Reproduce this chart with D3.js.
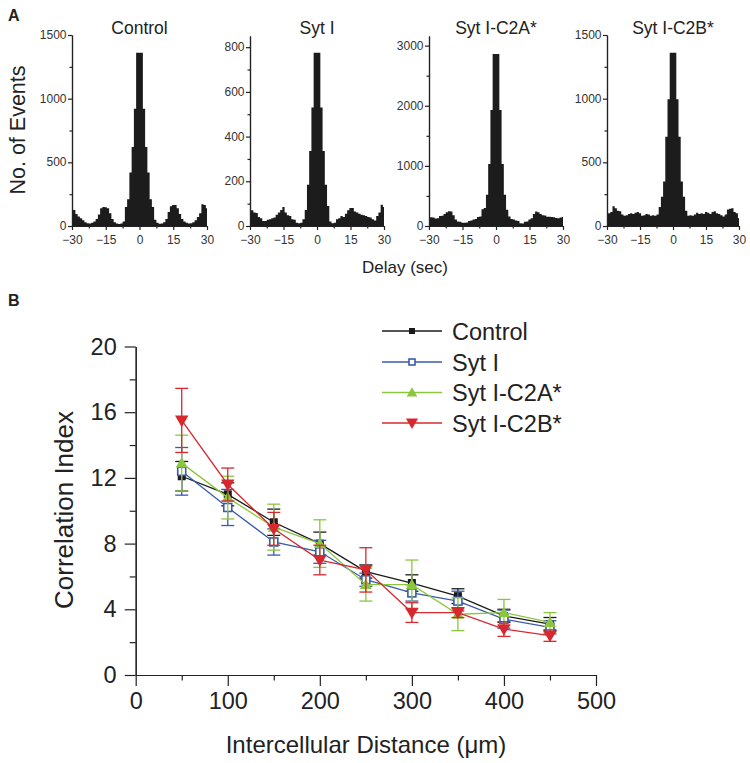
<!DOCTYPE html>
<html><head><meta charset="utf-8">
<script src="https://cdn.jsdelivr.net/npm/d3@7"></script>
<style>
body{margin:0;background:#fff}
svg{display:block}
text{font-family:"Liberation Sans",Arial,Helvetica,sans-serif}
</style>
</head><body>
<svg id="c" width="750" height="763"></svg>
<script>
// ---------- Panel A data (1-s bins, centers) ----------
const delayBins = [-30,-29,-28,-27,-26,-25,-24,-23,-22,-21,-20,-19,-18,-17,-16,-15,-14,-13,-12,-11,-10,-9,-8,-7,-6,-5,-4,-3,-2,-1,0,1,2,3,4,5,6,7,8,9,10,11,12,13,14,15,16,17,18,19,20,21,22,23,24,25,26,27,28,29,30];
const histTitles = ["Control","Syt I","Syt I-C2A*","Syt I-C2B*"];
const histControl = [130,125,95,75,60,45,30,22,20,25,35,55,90,140,150,148,140,100,55,30,20,15,20,35,150,210,420,620,920,1360,1360,1360,920,620,420,210,150,50,25,18,20,30,55,110,155,165,165,140,95,55,35,25,20,22,30,45,70,100,170,165,140];
const histSytI = [70,70,60,58,40,35,22,22,28,30,35,38,50,60,72,85,60,48,45,30,28,15,12,15,30,72,185,335,530,775,775,775,530,335,185,90,20,12,15,30,35,45,40,55,70,80,80,65,60,55,50,48,45,40,38,30,25,45,60,95,85];
const histC2A = [140,145,140,125,130,165,170,200,230,245,240,180,110,75,70,55,55,60,85,90,110,115,150,160,280,300,520,1030,1930,2860,2860,2860,1930,1030,520,270,160,115,110,90,85,45,40,70,75,110,130,200,240,230,200,180,175,155,155,150,145,135,130,140,150];
const histC2B = [95,100,110,155,140,120,115,90,80,85,95,100,95,105,110,100,80,85,95,90,80,85,80,90,150,230,350,700,995,1360,1360,1360,995,700,350,230,120,80,85,80,90,105,95,100,95,110,105,95,110,115,100,95,85,75,90,130,135,140,110,100,60];
const histSeries = [histControl, histSytI, histC2A, histC2B];
const histYMax = [1500, 850, 3160, 1500];
const histYTicks = [[0,500,1000,1500],[0,200,400,600,800],[0,1000,2000,3000],[0,500,1000,1500]];
const histYMinor = [[250,750,1250],[100,300,500,700],[500,1500,2500],[250,750,1250]];
const delayTicks = [-30,-15,0,15,30];
const delayMinor = [-22.5,-7.5,7.5,22.5];

// ---------- Panel B data ----------
const distances = [50,100,150,200,250,300,350,400,450];
const seriesNames = ["Control","Syt I","Syt I-C2A*","Syt I-C2B*"];
const corrControl = [12.1,11.0,9.3,8.0,6.3,5.6,4.8,3.6,3.1];
const errControl  = [0.9,0.7,0.8,0.7,0.4,0.5,0.45,0.4,0.4];
const corrSytI    = [12.4,10.2,8.1,7.5,5.8,5.0,4.5,3.4,2.9];
const errSytI     = [1.45,1.1,0.8,0.7,0.4,0.5,0.6,0.55,0.4];
const corrC2A     = [12.9,10.8,9.0,8.0,5.5,5.5,3.7,3.8,3.2];
const errC2A      = [1.7,1.3,1.4,1.45,1.0,1.5,1.0,0.8,0.6];
const corrC2B     = [15.5,11.6,8.9,7.0,6.4,3.8,3.8,2.8,2.4];
const errC2B      = [1.95,1.0,1.0,0.9,1.35,0.6,0.3,0.45,0.35];
const distTicks = [0,100,200,300,400,500];
const distMinor = [50,150,250,350,450];
const corrTicks = [0,4,8,12,16,20];
const corrMinor = [2,6,10,14,18];

const svg = d3.select("#c");
const axisCol = "#222";
const fmt = d3.format("d");

// ---------- Panel A ----------
const panels = [
  {x0:72, x1:207, top:35},
  {x0:250, x1:384, top:36},
  {x0:429, x1:563, top:36},
  {x0:607, x1:739, top:35}
];
const baseY = 226;

function styleAxis(g, fs, col){
  g.selectAll("path.domain").attr("stroke", axisCol).attr("stroke-width", 1.2);
  g.selectAll(".tick line").attr("stroke", axisCol).attr("stroke-width", 1.2);
  g.selectAll(".tick text").attr("font-size", fs).attr("fill", col)
   .attr("font-family", '"Liberation Sans",Arial,sans-serif');
}

panels.forEach((p, i) => {
  const x = d3.scaleLinear().domain([-30, 30]).range([p.x0, p.x1]);
  const y = d3.scaleLinear().domain([0, histYMax[i]]).range([baseY, p.top]);
  const g = svg.append("g");
  // step outline of the histogram: left edge of every bin, plus the closing right edge
  const steps = delayBins.map((c, k) => ({e: Math.max(-30, c - 0.5), v: histSeries[i][k]}));
  steps.push({e: 30, v: histSeries[i][histSeries[i].length - 1]});
  g.append("path").datum(steps)
    .attr("d", d3.area().curve(d3.curveStepAfter).x(d => x(d.e)).y0(baseY).y1(d => y(d.v)))
    .attr("fill", "#1c1c1c");

  const yMin = g.append("g").attr("transform", `translate(${p.x0},0)`)
    .call(d3.axisLeft(y).tickValues(histYMinor[i]).tickSize(2.5).tickSizeOuter(0).tickFormat(""));
  styleAxis(yMin, 12, "#333");
  const xMin = g.append("g").attr("transform", `translate(0,${baseY})`)
    .call(d3.axisBottom(x).tickValues(delayMinor).tickSize(2.5).tickSizeOuter(0).tickFormat(""));
  styleAxis(xMin, 12, "#333");

  const ya = g.append("g").attr("transform", `translate(${p.x0},0)`)
    .call(d3.axisLeft(y).tickValues(histYTicks[i]).tickSize(4).tickPadding(1.5).tickSizeOuter(0).tickFormat(fmt));
  styleAxis(ya, 12, "#333");
  ya.selectAll(".tick text").attr("dy", "0.3em");
  const xa = g.append("g").attr("transform", `translate(0,${baseY})`)
    .call(d3.axisBottom(x).tickValues(delayTicks).tickSize(4).tickPadding(5).tickSizeOuter(0).tickFormat(fmt));
  styleAxis(xa, 12, "#333");

  g.append("text").attr("x", x(0)).attr("y", 34).attr("text-anchor", "middle")
    .attr("font-size", 17.5).attr("fill", "#222").text(histTitles[i]);
});

svg.append("text").attr("x", 8).attr("y", 21).attr("font-size", 16).attr("font-weight", "bold").attr("fill", "#222").text("A");
svg.append("text").attr("transform", "translate(25,130) rotate(-90)").attr("text-anchor", "middle")
  .attr("font-size", 21.5).attr("fill", "#222").text("No. of Events");
svg.append("text").attr("x", 405).attr("y", 273).attr("text-anchor", "middle")
  .attr("font-size", 17).attr("fill", "#222").text("Delay (sec)");

// ---------- Panel B ----------
svg.append("text").attr("x", 8).attr("y", 306).attr("font-size", 16).attr("font-weight", "bold").attr("fill", "#222").text("B");

const xB = d3.scaleLinear().domain([0, 500]).range([135.7, 596]);
const yB = d3.scaleLinear().domain([0, 20]).range([675, 346.5]);
const gB = svg.append("g");

const xm = gB.append("g").attr("transform", "translate(0,675)")
  .call(d3.axisBottom(xB).tickValues(distMinor).tickSize(5.5).tickSizeOuter(0).tickFormat(""));
styleAxis(xm, 23.5, "#222");
const ym = gB.append("g").attr("transform", "translate(135.7,0)")
  .call(d3.axisLeft(yB).tickValues(corrMinor).tickSize(6).tickSizeOuter(0).tickFormat(""));
styleAxis(ym, 23.5, "#222");
const xaB = gB.append("g").attr("transform", "translate(0,675)")
  .call(d3.axisBottom(xB).tickValues(distTicks).tickSize(11).tickPadding(6).tickSizeOuter(0).tickFormat(fmt));
styleAxis(xaB, 23.5, "#222");
const yaB = gB.append("g").attr("transform", "translate(135.7,0)")
  .call(d3.axisLeft(yB).tickValues(corrTicks).tickSize(11).tickPadding(8).tickSizeOuter(0).tickFormat(fmt));
styleAxis(yaB, 23.5, "#222");

gB.append("text").attr("x", 366).attr("y", 753).attr("text-anchor", "middle")
  .attr("font-size", 24).attr("fill", "#222").text("Intercellular Distance (\u03bcm)");
gB.append("text").attr("transform", "translate(73,510) rotate(-90)").attr("text-anchor", "middle")
  .attr("font-size", 26).attr("fill", "#222").text("Correlation Index");

const series = [
  {name: seriesNames[0], vals: corrControl, errs: errControl, color: "#1a1a1a", marker: "square", fill: "#1a1a1a"},
  {name: seriesNames[1], vals: corrSytI, errs: errSytI, color: "#3a5baa", marker: "square", fill: "#fff"},
  {name: seriesNames[2], vals: corrC2A, errs: errC2A, color: "#8cc63f", marker: "tri", fill: "#8cc63f"},
  {name: seriesNames[3], vals: corrC2B, errs: errC2B, color: "#d7282f", marker: "tridown", fill: "#d7282f"}
];

function drawMarker(g, s, cx, cy, scale){
  if (s.marker === "square") {
    const sz = 8 * scale;
    g.append("rect").attr("x", cx - sz/2).attr("y", cy - sz/2).attr("width", sz).attr("height", sz)
      .attr("fill", s.fill).attr("stroke", s.color).attr("stroke-width", s.fill === "#fff" ? 1.6 : 0);
  } else {
    const area = (s.marker === "tri" ? 62 : 78) * scale * scale;
    g.append("path").attr("d", d3.symbol(d3.symbolTriangle, area)())
      .attr("transform", `translate(${cx},${cy + (s.marker === "tri" ? 1 : -1)}) rotate(${s.marker === "tri" ? 0 : 180})`)
      .attr("fill", s.fill);
  }
}

series.forEach(s => {
  const g = gB.append("g");
  const pts = distances.map((d, k) => ({d, v: s.vals[k], e: s.errs[k]}));
  pts.forEach(p => {
    const cx = xB(p.d);
    g.append("line").attr("x1", cx).attr("x2", cx).attr("y1", yB(p.v - p.e)).attr("y2", yB(p.v + p.e))
      .attr("stroke", s.color).attr("stroke-width", 1.3);
    [p.v - p.e, p.v + p.e].forEach(yy => {
      g.append("line").attr("x1", cx - 6.5).attr("x2", cx + 6.5).attr("y1", yB(yy)).attr("y2", yB(yy))
        .attr("stroke", s.color).attr("stroke-width", 1.3);
    });
  });
  g.append("path").datum(pts)
    .attr("d", d3.line().x(p => xB(p.d)).y(p => yB(p.v)))
    .attr("fill", "none").attr("stroke", s.color).attr("stroke-width", 1.3);
  pts.forEach(p => drawMarker(g, s, xB(p.d), yB(p.v), 1));
});

// legend
const legY = [331, 362, 392.5, 423];
series.forEach((s, i) => {
  const g = svg.append("g");
  g.append("line").attr("x1", 382).attr("x2", 442).attr("y1", legY[i]).attr("y2", legY[i])
    .attr("stroke", s.color).attr("stroke-width", 1.3);
  drawMarker(g, s, 412, legY[i], s.marker === "square" ? 0.75 : 0.9);
  g.append("text").attr("x", 452).attr("y", legY[i] + 8.5).attr("font-size", 23.5).attr("fill", "#222").text(s.name);
});
</script>
</body></html>
